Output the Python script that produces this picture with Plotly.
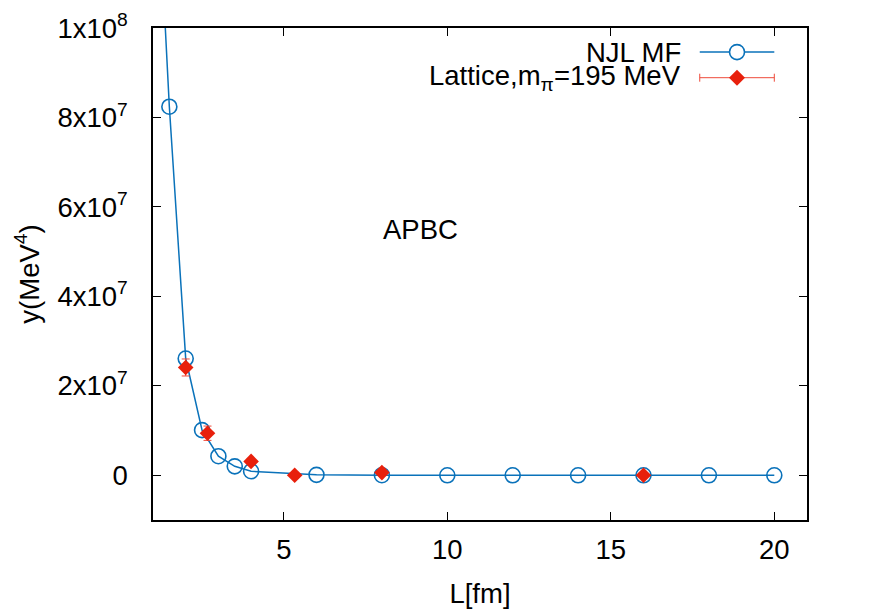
import plotly.graph_objects as go

# NJL mean-field curve (first point sits above the visible range)
njl_L = [1.25, 1.5, 2.0, 2.5, 3.0, 3.5, 4.0, 6.0, 8.0, 10.0, 12.0, 14.0, 16.0, 18.0, 20.0]
njl_y = [1.18e8, 8.24e7, 2.61e7, 1.01e7, 4.26e6, 2.0e6, 9.0e5, 1.0e5, 2.0e4, 0, 0, 0, 0, 0, 0]

# lattice points, m_pi = 195 MeV
lat_L = [2.0, 8 / 3, 4.0, 16 / 3, 8.0, 16.0]
lat_y = [2.41e7, 9.4e6, 3.1e6, 0, 6.0e5, 0]
lat_err = [1.9e6, 1.6e6, 6.0e5, 1.0e5, 2.0e5, 1.0e5]

x_ticks = [5, 10, 15, 20]
y_ticks = [0, 2e7, 4e7, 6e7, 8e7, 1e8]
y_ticktext = ["0", "2x10<sup>7</sup>", "4x10<sup>7</sup>", "6x10<sup>7</sup>",
              "8x10<sup>7</sup>", "1x10<sup>8</sup>"]

BLUE = "#0a72ba"
RED = "#e8200c"
ERR = "#ee4a3a"
FONT = "Liberation Sans, Arial, sans-serif"
FS = 27.5

fig = go.Figure()
fig.add_trace(go.Scatter(
    x=njl_L, y=njl_y,
    mode="lines+markers",
    name="NJL MF",
    line={"color": BLUE, "width": 1.5},
    marker={"symbol": "circle-open", "size": 15, "color": BLUE, "line": {"width": 1.6}},
))
fig.add_trace(go.Scatter(
    x=lat_L, y=lat_y,
    mode="markers",
    name="Lattice,m<sub>π</sub>=195 MeV",
    marker={"symbol": "diamond", "size": 12, "color": RED},
    error_y={"type": "data", "array": lat_err, "color": ERR, "thickness": 1, "width": 4},
))

# gnuplot-style key: text right-aligned, sample on the right
key_text_x = 0.811
key_sample_x0, key_sample_x1, key_sample_mid = 0.836, 0.950, 0.893
rows = [0.951, 0.899]
fig.add_annotation(x=key_text_x, y=rows[0], xref="paper", yref="paper", text="NJL MF",
                   showarrow=False, xanchor="right", yanchor="middle",
                   font={"size": FS, "color": "black", "family": FONT})
fig.add_annotation(x=key_text_x, y=rows[1], xref="paper", yref="paper",
                   text="Lattice,m<sub>π</sub>=195 MeV",
                   showarrow=False, xanchor="right", yanchor="middle",
                   font={"size": FS, "color": "black", "family": FONT})
fig.add_shape(type="line", xref="paper", yref="paper", x0=key_sample_x0, x1=key_sample_x1,
              y0=rows[0], y1=rows[0], line={"color": BLUE, "width": 1.5})
fig.add_shape(type="circle", xref="paper", yref="paper", xsizemode="pixel", ysizemode="pixel",
              xanchor=key_sample_mid, yanchor=rows[0], x0=-7.5, x1=7.5, y0=-7.5, y1=7.5,
              line={"color": BLUE, "width": 1.6}, fillcolor="white")
fig.add_shape(type="line", xref="paper", yref="paper", x0=key_sample_x0, x1=key_sample_x1,
              y0=rows[1], y1=rows[1], line={"color": ERR, "width": 1})
for xc in (key_sample_x0, key_sample_x1):
    fig.add_shape(type="line", xref="paper", yref="paper", xsizemode="pixel", ysizemode="pixel",
                  xanchor=xc, yanchor=rows[1], x0=0, x1=0, y0=-4, y1=4,
                  line={"color": ERR, "width": 1})
fig.add_shape(type="path", xref="paper", yref="paper", xsizemode="pixel", ysizemode="pixel",
              xanchor=key_sample_mid, yanchor=rows[1],
              path="M -8 0 L 0 8 L 8 0 L 0 -8 Z", line={"width": 0}, fillcolor=RED)

fig.add_annotation(x=9.18, y=5.5e7, text="APBC", showarrow=False,
                   font={"size": FS, "color": "black", "family": FONT})

axis_common = dict(
    showline=True, linecolor="black", linewidth=1.5, mirror="ticks",
    ticks="inside", ticklen=8, tickcolor="black", tickwidth=1,
    showgrid=False, zeroline=False, automargin=False,
    tickfont={"size": FS, "color": "black", "family": FONT},
)
fig.update_xaxes(range=[1, 21], tickvals=x_ticks, ticklabelstandoff=4,
                 title={"text": "L[fm]", "standoff": 20,
                        "font": {"size": FS, "color": "black", "family": FONT}},
                 **axis_common)
fig.update_yaxes(range=[-1e7, 1e8], tickvals=y_ticks, ticktext=y_ticktext, ticklabelstandoff=18,
                 title={"text": "y(MeV<sup>4</sup>)", "standoff": 10,
                        "font": {"size": FS, "color": "black", "family": FONT}},
                 **axis_common)
# page body adds an 8px offset, so the figure is 8px smaller on each side
fig.update_layout(
    width=864, height=602,
    showlegend=False,
    plot_bgcolor="white", paper_bgcolor="white",
    margin={"l": 145, "r": 65, "t": 20, "b": 90},
)
fig.write_html("out.html")
